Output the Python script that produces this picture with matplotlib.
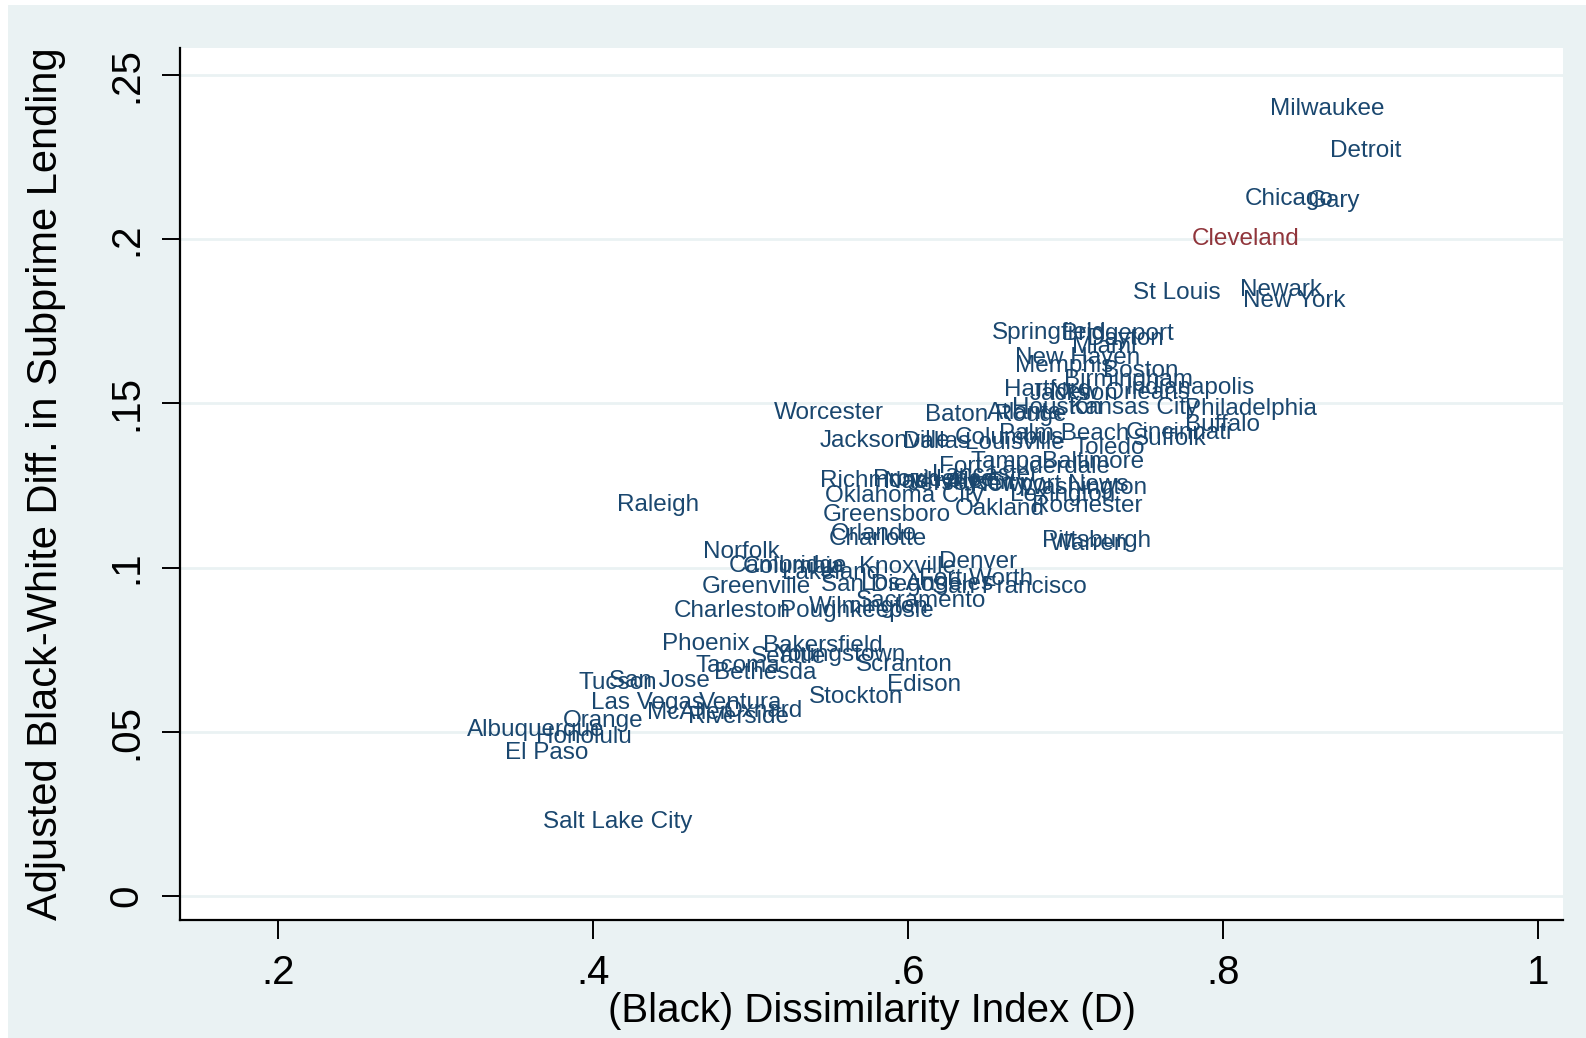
import matplotlib
matplotlib.use("Agg")
import matplotlib.pyplot as plt
from matplotlib.patches import Rectangle

plt.rcParams['font.family'] = ['Liberation Sans', 'DejaVu Sans']

# city labels, dissimilarity index (x) and adjusted subprime gap (y)
cities = [
    "Milwaukee", "Detroit", "Chicago", "Gary", "Cleveland", "St Louis", "Newark", "New York",
    "Springfield", "Bridgeport", "Dayton", "Miami", "New Haven", "Memphis", "Boston", "Birmingham",
    "Hartford", "Indianapolis", "Jackson", "New Orleans", "Houston", "Kansas City", "Philadelphia",
    "Worcester", "Baton Rouge", "Atlanta", "Buffalo", "Palm Beach", "Cincinnati", "Columbus",
    "Suffolk", "Jacksonville", "Dallas", "Louisville", "Toledo", "Tampa", "Baltimore",
    "Fort Lauderdale", "Lancaster", "Providence", "Richmond", "Nashville", "Austin", "Jersey City",
    "Newport News", "Washington", "Lexington", "Oklahoma City", "Raleigh", "Rochester", "Oakland",
    "Greensboro", "Orlando", "Charlotte", "Pittsburgh", "Warren", "Norfolk", "Denver", "Cambridge",
    "Columbia", "Knoxville", "Lakeland", "Fort Worth", "San Diego", "Los Angeles", "Greenville",
    "San Francisco", "Sacramento", "Wilmington", "Charleston", "Poughkeepsie", "Phoenix",
    "Bakersfield", "Youngstown", "Seattle", "Scranton", "Tacoma", "Bethesda", "San Jose", "Tucson",
    "Edison", "Stockton", "Las Vegas", "Ventura", "Oxnard", "McAllen", "Riverside", "Orange",
    "Albuquerque", "Honolulu", "El Paso", "Salt Lake City",
]
dissim = [
    0.830, 0.868, 0.814, 0.854, 0.780, 0.743, 0.811, 0.813,
    0.653, 0.698, 0.714, 0.704, 0.668, 0.668, 0.724, 0.699,
    0.661, 0.738, 0.677, 0.690, 0.666, 0.702, 0.776,
    0.515, 0.611, 0.650, 0.776, 0.658, 0.738, 0.630,
    0.743, 0.544, 0.597, 0.636, 0.705, 0.640, 0.685,
    0.620, 0.615, 0.578, 0.544, 0.585, 0.625, 0.600,
    0.640, 0.672, 0.665, 0.547, 0.415, 0.679, 0.630,
    0.546, 0.551, 0.550, 0.685, 0.690, 0.470, 0.620, 0.486,
    0.495, 0.569, 0.520, 0.607, 0.545, 0.570, 0.469,
    0.615, 0.567, 0.537, 0.451, 0.519, 0.444,
    0.508, 0.515, 0.500, 0.567, 0.465, 0.477, 0.410, 0.391,
    0.587, 0.537, 0.399, 0.467, 0.483, 0.434, 0.460, 0.381,
    0.320, 0.364, 0.344, 0.368,
]
subprime = [
    0.2395, 0.2269, 0.2121, 0.2115, 0.2001, 0.1835, 0.1844, 0.1813,
    0.1715, 0.1712, 0.1696, 0.1672, 0.1638, 0.1613, 0.1598, 0.1570,
    0.1542, 0.1546, 0.1527, 0.1533, 0.1487, 0.1487, 0.1484,
    0.1472, 0.1466, 0.1472, 0.1435, 0.1407, 0.1410, 0.1395,
    0.1392, 0.1385, 0.1382, 0.1379, 0.1364, 0.1321, 0.1321,
    0.1305, 0.1281, 0.1268, 0.1265, 0.1262, 0.1259, 0.1256,
    0.1250, 0.1241, 0.1222, 0.1219, 0.1192, 0.1188, 0.1179,
    0.1161, 0.1102, 0.1087, 0.1081, 0.1071, 0.1047, 0.1016, 0.1004,
    0.1001, 0.1001, 0.0985, 0.0964, 0.0948, 0.0950, 0.0942,
    0.0942, 0.0899, 0.0881, 0.0868, 0.0868, 0.0767,
    0.0760, 0.0733, 0.0727, 0.0705, 0.0702, 0.0680, 0.0656, 0.0650,
    0.0643, 0.0607, 0.0588, 0.0588, 0.0563, 0.0557, 0.0545, 0.0533,
    0.0505, 0.0486, 0.0437, 0.0225,
]
highlight = "Cleveland"

x_ticks = [0.2, 0.4, 0.6, 0.8, 1.0]
x_tick_labels = [".2", ".4", ".6", ".8", "1"]
y_ticks = [0, 0.05, 0.1, 0.15, 0.2, 0.25]
y_tick_labels = ["0", ".05", ".1", ".15", ".2", ".25"]

bg = "#eaf2f3"
navy = "#1a476f"
maroon = "#90353b"

fig = plt.figure(figsize=(15.86, 10.38), dpi=100, facecolor="white")
fig.patches.append(Rectangle((0.005, 0), 0.995, 0.995, transform=fig.transFigure,
                             facecolor=bg, edgecolor="none", zorder=-10))
ax = fig.add_axes([0.1135, 0.1132, 0.872, 0.841])
ax.set_facecolor("white")

for name, x, y in zip(cities, dissim, subprime):
    ax.text(x, y, name, ha="left", va="center", fontsize=17.5,
            color=maroon if name == highlight else navy, clip_on=False)

ax.set_xlim(0.1377, 1.016)
ax.set_ylim(-0.0074, 0.2583)
ax.set_xticks(x_ticks)
ax.set_xticklabels(x_tick_labels)
ax.set_yticks(y_ticks)
ax.set_yticklabels(y_tick_labels, rotation=90, va="center")

ax.grid(axis="y", color=bg, linewidth=2)
ax.set_axisbelow(True)
ax.tick_params(axis="x", length=14, width=1.4, labelsize=29, pad=10)
ax.tick_params(axis="y", length=13, width=1.4, labelsize=29, pad=12)

for s in ["top", "right"]:
    ax.spines[s].set_visible(False)
for s in ["left", "bottom"]:
    ax.spines[s].set_linewidth(1.6)

ax.set_xlabel("(Black) Dissimilarity Index (D)", fontsize=29)
ax.set_ylabel("Adjusted Black-White Diff. in Subprime Lending", fontsize=30)
ax.xaxis.set_label_coords(0.5, -0.1037)
ax.xaxis.label.set_va("center")
ax.yaxis.set_label_coords(-0.097, 0.5)
ax.yaxis.label.set_va("center")

fig.savefig("out.png", dpi=100, facecolor=fig.get_facecolor())
